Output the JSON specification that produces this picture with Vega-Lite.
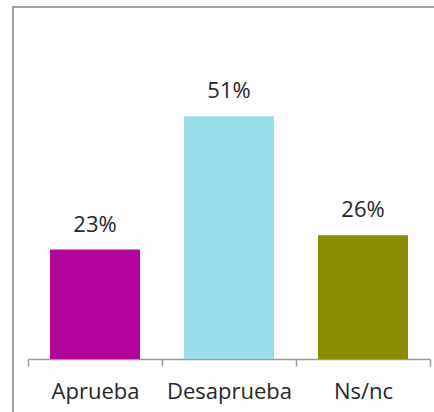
{
  "$schema": "https://vega.github.io/schema/vega-lite/v6.json",
  "autosize": {"type": "none"},
  "padding": {"left": 13, "top": 7, "right": -6, "bottom": -6},
  "width": 427,
  "height": 411,
  "background": "white",
  "config": {
    "view": {"stroke": "#a0a0a0", "strokeWidth": 2},
    "axis": {
      "domainColor": "#9a9a9a",
      "tickColor": "#9a9a9a",
      "domainWidth": 1.5,
      "tickWidth": 1.5,
      "tickSize": 7,
      "labelFont": "Open Sans",
      "labelFontSize": 22,
      "labelColor": "#262626",
      "grid": false
    }
  },
  "data": {
    "values": [
      {"categoria": "Aprueba", "valor": 23, "etiqueta": "23%"},
      {"categoria": "Desaprueba", "valor": 51, "etiqueta": "51%"},
      {"categoria": "Ns/nc", "valor": 26, "etiqueta": "26%"}
    ]
  },
  "encoding": {
    "x": {
      "field": "categoria",
      "type": "nominal",
      "sort": null,
      "scale": {"range": [15, 417], "paddingInner": 0, "paddingOuter": 0},
      "axis": {
        "title": null,
        "labelAngle": 0,
        "tickBand": "extent",
        "offset": -59,
        "labelBaseline": "alphabetic",
        "labelPadding": 32
      }
    },
    "y": {
      "field": "valor",
      "type": "quantitative",
      "scale": {"domain": [-12.39, 73.95], "nice": false},
      "axis": null
    }
  },
  "layer": [
    {
      "mark": {"type": "bar", "width": {"band": 0.672}},
      "encoding": {
        "y2": {"datum": 0},
        "color": {
          "field": "categoria",
          "type": "nominal",
          "scale": {
            "domain": ["Aprueba", "Desaprueba", "Ns/nc"],
            "range": ["#b4049e", "#99ddeb", "#8a8c00"]
          },
          "legend": null
        }
      }
    },
    {
      "mark": {
        "type": "text",
        "baseline": "alphabetic",
        "dy": -18,
        "font": "Open Sans",
        "fontSize": 22,
        "color": "#262626"
      },
      "encoding": {"text": {"field": "etiqueta"}}
    }
  ]
}
